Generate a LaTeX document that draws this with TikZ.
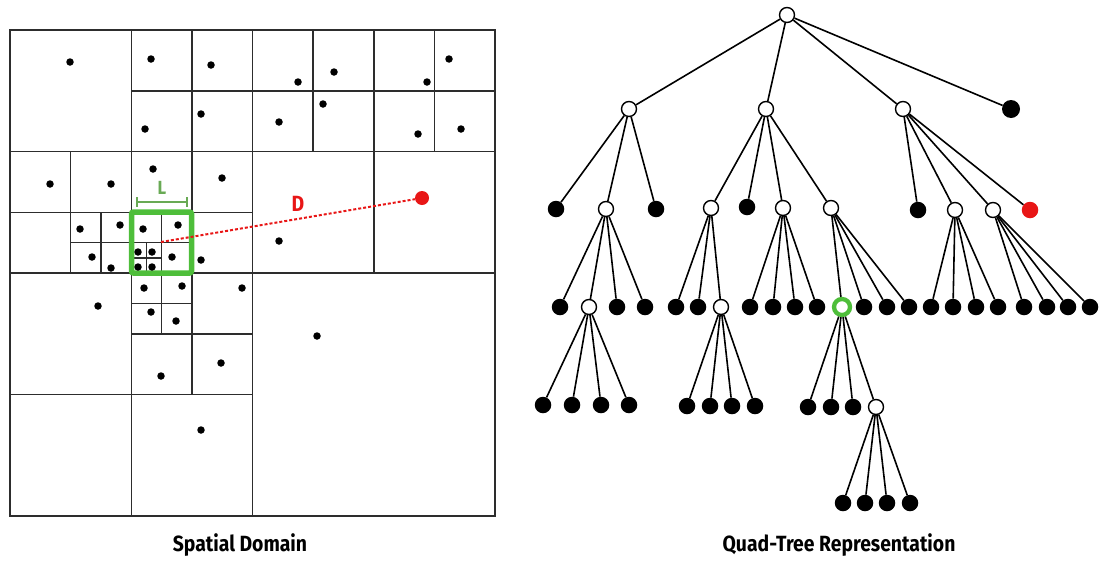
\documentclass[tikz,border=0pt]{standalone}
\usepackage{fontspec}
\newfontfamily\lblfont{Fira Sans}[FakeStretch=0.88]
\definecolor{gridc}{RGB}{45,45,45}
\definecolor{boxgreen}{RGB}{78,190,58}
\definecolor{lgreen}{RGB}{105,170,85}
\definecolor{ptred}{RGB}{232,22,22}
\begin{document}
\begin{tikzpicture}[x=1pt,y=-1pt,
  wnode/.style={circle,draw=black,fill=white,line width=1.4pt,inner sep=0pt,minimum size=15pt},
  bnode/.style={circle,fill=black,inner sep=0pt,minimum size=16.5pt},
  gnode/.style={circle,draw=boxgreen,fill=white,line width=4.3pt,inner sep=0pt,minimum size=16pt},
  rnode/.style={circle,fill=ptred,inner sep=0pt,minimum size=16.5pt},
  spt/.style={circle,fill=black,inner sep=0pt,minimum size=7.5pt},
  redpt/.style={circle,fill=ptred,inner sep=0pt,minimum size=14pt},
  edge/.style={line width=1.6pt,black},
  gridline/.style={line width=1.5pt,gridc},
  caption/.style={font=\lblfont\bfseries\fontsize{22}{26}\selectfont,anchor=base}
]
\useasboundingbox (0,0) rectangle (1099,560);

% ---------- spatial domain grid ----------
\begin{scope}[shift={(10,30)},x=60.625pt,y=-60.75pt]
\draw[gridline] (0,0) rectangle (8,8);
\draw[gridline] (4,0) -- (4,8) (0,4) -- (8,4);
\draw[gridline] (2,0) -- (2,4) (0,2) -- (4,2);
\draw[gridline] (6,0) -- (6,4) (4,2) -- (8,2);
\draw[gridline] (2,4) -- (2,8) (0,6) -- (4,6);
\draw[gridline] (3,0) -- (3,6);
\draw[gridline] (2,1) -- (4,1);
\draw[gridline] (1,2) -- (1,4) (0,3) -- (4,3);
\draw[gridline] (1.5,3) -- (1.5,4) (1,3.5) -- (3,3.5);
\draw[gridline] (2.5,3) -- (2.5,5);
\draw[gridline] (2.25,3.5) -- (2.25,4) (2,3.75) -- (2.5,3.75);
\draw[gridline] (5,0) -- (5,2) (4,1) -- (6,1);
\draw[gridline] (7,0) -- (7,2) (6,1) -- (8,1);
\draw[gridline] (2,5) -- (4,5);
\draw[gridline] (2,4.5) -- (3,4.5);
\end{scope}

% green query box and L bracket
\draw[boxgreen,line width=5.5pt,rounded corners=2pt] (131.5,212) rectangle (191.5,273);
\draw[lgreen,line width=1.6pt] (137,202) -- (187,202) (137,197) -- (137,207) (187,197) -- (187,207);
\node[lgreen,font=\lblfont\bfseries\fontsize{19}{22}\selectfont] (lbl) at (162,188) {L};

% points
\foreach \px/\py [count=\i] in {70/62,151/59,211/65,145/129,201/114,
  50/184,111/184,153/169,222/178,
  80/229,120/225,92/257,111/268,
  143/229,178/225,138/252,152/252,138/267,152/267,172/257,201/260,
  298/82,334/72,279/122,323/104,
  427/82,449/59,418/134,461/129,
  279/241,
  98/306,144/288,182/286,151/312,176/321,242/288,161/376,221/363,201/430,317/336}
  {\node[spt] (p\i) at (\px,\py) {};}

% distance line
\node[redpt] (target) at (422,198) {};
\coordinate (dstart) at (161,242);
\draw[ptred,line width=2pt,dash pattern=on 3pt off 2pt] (dstart) -- (target);
\node[ptred,font=\lblfont\bfseries\fontsize{22}{26}\selectfont] (dlbl) at (298,204) {D};

% ---------- quad-tree ----------
\node[wnode] (root) at (787,15) {};
\node[wnode] (A) at (629,109) {};
\node[wnode] (B) at (766,109) {};
\node[wnode] (C) at (903,109) {};
\node[bnode,minimum size=18pt] (D) at (1011,109) {};

\node[bnode] (a1) at (556,209) {};
\node[wnode] (A2) at (606,209) {};
\node[bnode] (a3) at (656,209) {};
\node[bnode] (a21) at (560,307) {};
\node[wnode] (A2b) at (589,307) {};
\node[bnode] (a23) at (617,307) {};
\node[bnode] (a24) at (645,307) {};
\node[bnode] (a2b1) at (543,405) {};
\node[bnode] (a2b2) at (572,405) {};
\node[bnode] (a2b3) at (601,405) {};
\node[bnode] (a2b4) at (629,405) {};

\node[wnode] (B1) at (711,208) {};
\node[bnode] (b2) at (747,207) {};
\node[wnode] (B3) at (783,208) {};
\node[wnode] (B4) at (831,208) {};
\node[bnode] (b11) at (676,307) {};
\node[bnode] (b12) at (698,307) {};
\node[wnode] (B1c) at (721,307) {};
\node[bnode] (b1c1) at (687,406) {};
\node[bnode] (b1c2) at (710,406) {};
\node[bnode] (b1c3) at (732,406) {};
\node[bnode] (b1c4) at (755,406) {};
\node[bnode] (b31) at (750,307) {};
\node[bnode] (b32) at (773,307) {};
\node[bnode] (b33) at (795,307) {};
\node[bnode] (b34) at (817,307) {};
\node[gnode] (G) at (842,307) {};
\node[bnode] (b42) at (864,307) {};
\node[bnode] (b43) at (887,307) {};
\node[bnode] (b44) at (909,307) {};
\node[bnode] (g1) at (808,407) {};
\node[bnode] (g2) at (831,407) {};
\node[bnode] (g3) at (853,407) {};
\node[wnode] (G4) at (876,407) {};
\node[bnode] (g41) at (843,503) {};
\node[bnode] (g42) at (865,503) {};
\node[bnode] (g43) at (887,503) {};
\node[bnode] (g44) at (910,503) {};

\node[bnode] (c1) at (918,210) {};
\node[wnode] (C2) at (955,210) {};
\node[wnode] (C3) at (993,210) {};
\node[rnode] (cr) at (1030,210) {};
\node[bnode] (c21) at (931,307) {};
\node[bnode] (c22) at (953,307) {};
\node[bnode] (c23) at (976,307) {};
\node[bnode] (c24) at (998,307) {};
\node[bnode] (c31) at (1024,307) {};
\node[bnode] (c32) at (1047,307) {};
\node[bnode] (c33) at (1068,307) {};
\node[bnode] (c34) at (1090,307) {};

\foreach \p/\cs in {root/{A,B,C,D}, A/{a1,A2,a3}, A2/{a21,A2b,a23,a24},
  A2b/{a2b1,a2b2,a2b3,a2b4}, B/{B1,b2,B3,B4}, B1/{b11,b12,B1c},
  B1c/{b1c1,b1c2,b1c3,b1c4}, B3/{b31,b32,b33,b34}, B4/{G,b42,b43,b44},
  G/{g1,g2,g3,G4}, G4/{g41,g42,g43,g44}, C/{c1,C2,C3,cr},
  C2/{c21,c22,c23,c24}, C3/{c31,c32,c33,c34}}
  {\foreach \c in \cs {\draw[edge] (\p) -- (\c);}}

% captions
\node[caption] (cap1) at (240,551) {Spatial Domain};
\node[caption] (cap2) at (839,551) {Quad-Tree Representation};
\end{tikzpicture}
\end{document}
